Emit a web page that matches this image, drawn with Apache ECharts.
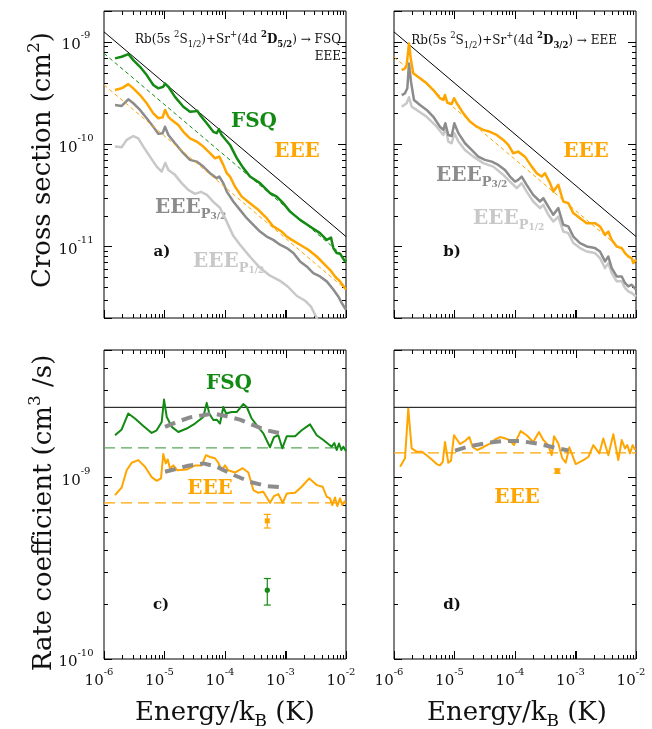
<!DOCTYPE html>
<html>
<head>
<meta charset="utf-8">
<script src="https://cdn.jsdelivr.net/npm/echarts@6/dist/echarts.min.js"></script>
<style>
html, body { margin: 0; padding: 0; background: #fff; }
#chart { width: 652px; height: 729px; }
#dbg { position: absolute; left: 0; top: 330px; font: 11px monospace; color: red; }
</style>
</head>
<body>
<div id="chart"></div>
<div id="dbg"></div>
<script>
// ---- data (energy in K, cross section in cm^2, rate in cm^3/s)
const langevinCross = [[1e-6, 1.25e-9], [1e-2, 1.25e-11]];
const fsqFitA = [[1e-6, 7.7e-10], [1e-2, 7.7e-12]];
const eeeFitA = [[1e-6, 3.8e-10], [1e-2, 3.8e-12]];
const eeeFitB = [[1e-6, 7.1e-10], [1e-2, 7.1e-12]];

const fsqCrossA = [
  [1.52e-6, 6.89e-10], [1.96e-6, 7.14e-10], [2.52e-6, 7.59e-10], [3.05e-6, 6.62e-10], [3.94e-6, 5.70e-10],
  [5.08e-6, 4.73e-10], [6.53e-6, 3.78e-10], [7.90e-6, 3.51e-10], [9.55e-6, 3.64e-10], [1.02e-5, 3.91e-10],
  [1.16e-5, 3.64e-10], [1.49e-5, 2.90e-10], [2.05e-5, 2.32e-10], [2.64e-5, 2.07e-10], [3.19e-5, 2.10e-10],
  [3.48e-5, 2.12e-10], [3.86e-5, 1.93e-10], [4.99e-5, 1.60e-10], [6.41e-5, 1.32e-10], [7.30e-5, 1.28e-10],
  [7.96e-5, 1.40e-10], [8.82e-5, 1.23e-10], [9.38e-5, 1.18e-10], [1.21e-4, 9.82e-11], [1.56e-4, 7.33e-11],
  [2.00e-4, 5.86e-11], [2.59e-4, 4.82e-11], [3.79e-4, 4.16e-11], [5.55e-4, 3.32e-11], [7.16e-4, 3.07e-11],
  [9.20e-4, 2.65e-11], [1.19e-3, 2.19e-11], [1.74e-3, 1.82e-11], [2.54e-3, 1.57e-11], [3.72e-3, 1.35e-11],
  [4.80e-3, 1.16e-11], [5.65e-3, 1.22e-11], [6.17e-3, 9.64e-12], [7.02e-3, 8.63e-12], [7.96e-3, 8.50e-12],
  [9.62e-3, 7.15e-12], [1e-2, 7.4e-12]
];
const eeeCrossA = [
  [1.52e-6, 3.38e-10], [1.96e-6, 3.51e-10], [2.52e-6, 3.86e-10], [3.05e-6, 3.51e-10], [3.94e-6, 3.02e-10],
  [5.08e-6, 2.51e-10], [6.53e-6, 2.00e-10], [7.90e-6, 1.79e-10], [9.33e-6, 1.83e-10], [1.02e-5, 2.16e-10],
  [1.16e-5, 1.85e-10], [1.32e-5, 1.72e-10], [1.69e-5, 1.54e-10], [2.05e-5, 1.32e-10], [2.64e-5, 1.14e-10],
  [3.40e-5, 1.06e-10], [4.38e-5, 9.46e-11], [5.65e-5, 8.15e-11], [6.83e-5, 7.28e-11], [8.05e-5, 7.55e-11],
  [9.38e-5, 6.27e-11], [1.07e-4, 5.20e-11], [1.21e-4, 4.82e-11], [1.46e-4, 3.85e-11], [1.89e-4, 3.07e-11],
  [2.59e-4, 2.65e-11], [3.55e-4, 2.28e-11], [4.89e-4, 1.89e-11], [6.28e-4, 1.57e-11], [8.65e-4, 1.40e-11],
  [1.05e-3, 1.25e-11], [1.27e-3, 1.16e-11], [1.74e-3, 1.04e-11], [2.38e-3, 9.29e-12], [3.28e-3, 7.98e-12],
  [4.22e-3, 6.88e-12], [5.44e-3, 5.92e-12], [6.58e-3, 5.09e-12], [7.96e-3, 4.56e-12], [1e-2, 3.79e-12]
];
const eeeP32CrossA = [
  [1.52e-6, 2.41e-10], [1.96e-6, 2.36e-10], [2.52e-6, 2.74e-10], [3.05e-6, 2.51e-10], [3.94e-6, 2.16e-10],
  [5.08e-6, 1.79e-10], [6.53e-6, 1.48e-10], [7.90e-6, 1.26e-10], [9.33e-6, 1.28e-10], [1.02e-5, 1.48e-10],
  [1.16e-5, 1.23e-10], [1.49e-5, 1.02e-10], [2.05e-5, 8.15e-11], [2.64e-5, 7.02e-11], [3.40e-5, 6.75e-11],
  [4.38e-5, 6.03e-11], [5.65e-5, 5.20e-11], [7.30e-5, 4.65e-11], [8.05e-5, 4.82e-11], [9.38e-5, 4.16e-11],
  [1.07e-4, 3.44e-11], [1.37e-4, 2.75e-11], [1.77e-4, 2.28e-11], [2.29e-4, 1.89e-11], [2.94e-4, 1.63e-11],
  [3.79e-4, 1.40e-11], [4.89e-4, 1.25e-11], [6.28e-4, 1.16e-11], [8.11e-4, 1.04e-11], [1.05e-3, 9.64e-12],
  [1.35e-3, 8.63e-12], [1.74e-3, 7.15e-12], [2.24e-3, 6.38e-12], [2.88e-3, 5.50e-12], [3.72e-3, 5.09e-12],
  [4.80e-3, 4.56e-12], [6.17e-3, 3.79e-12], [7.46e-3, 3.25e-12], [8.49e-3, 2.80e-12], [1e-2, 2.41e-12]
];
const eeeP12CrossA = [
  [1.52e-6, 9.46e-11], [1.96e-6, 9.33e-11], [2.37e-6, 1.10e-10], [3.05e-6, 1.20e-10], [3.69e-6, 1.14e-10],
  [4.47e-6, 9.46e-11], [5.75e-6, 7.55e-11], [7.43e-6, 6.03e-11], [8.99e-6, 5.39e-11], [1.03e-5, 6.56e-11],
  [1.16e-5, 5.60e-11], [1.49e-5, 5.01e-11], [1.92e-5, 4.16e-11], [2.47e-5, 3.57e-11], [3.19e-5, 3.27e-11],
  [4.01e-5, 3.42e-11], [5.04e-5, 3.19e-11], [6.41e-5, 2.73e-11], [8.27e-5, 2.39e-11], [1.07e-4, 1.74e-11],
  [1.37e-4, 1.27e-11], [1.77e-4, 1.04e-11], [2.59e-4, 7.94e-12], [3.79e-4, 6.19e-12], [5.55e-4, 5.18e-12],
  [8.11e-4, 4.62e-12], [1.10e-3, 4.04e-12], [1.53e-3, 3.30e-12], [2.10e-3, 2.95e-12], [2.64e-3, 2.58e-12],
  [3.28e-3, 2.00e-12], [4.5e-3, 1.37e-12]
];

const eeeCrossB = [
  [1.34e-6, 5.30e-10], [1.52e-6, 5.50e-10], [1.62e-6, 5.93e-10], [1.77e-6, 9.64e-10], [1.89e-6, 6.89e-10],
  [2.08e-6, 4.92e-10], [2.69e-6, 4.40e-10], [3.47e-6, 3.93e-10], [4.47e-6, 3.38e-10], [5.75e-6, 2.81e-10],
  [6.53e-6, 2.70e-10], [6.97e-6, 3.02e-10], [7.60e-6, 2.54e-10], [8.99e-6, 2.47e-10], [9.82e-6, 2.81e-10],
  [1.09e-5, 2.51e-10], [1.40e-5, 2.00e-10], [1.80e-5, 1.66e-10], [2.33e-5, 1.48e-10], [2.99e-5, 1.38e-10],
  [3.86e-5, 1.32e-10], [4.99e-5, 1.23e-10], [6.41e-5, 1.10e-10], [7.75e-5, 9.82e-11], [9.38e-5, 8.15e-11],
  [1.13e-4, 8.45e-11], [1.46e-4, 7.55e-11], [1.89e-4, 6.03e-11], [2.29e-4, 5.20e-11], [2.76e-4, 4.82e-11],
  [3.13e-4, 5.20e-11], [3.79e-4, 4.16e-11], [4.30e-4, 3.44e-11], [5.20e-4, 4.00e-11], [6.28e-4, 2.75e-11],
  [7.60e-4, 2.65e-11], [9.20e-4, 2.12e-11], [1.19e-3, 1.89e-11], [1.53e-3, 1.69e-11], [2.10e-3, 1.69e-11],
  [2.54e-3, 1.57e-11], [3.08e-3, 1.30e-11], [3.49e-3, 1.40e-11], [3.97e-3, 1.16e-11], [4.80e-3, 1.00e-11],
  [5.81e-3, 9.64e-12], [6.58e-3, 8.63e-12], [7.46e-3, 7.98e-12], [8.49e-3, 7.70e-12], [9.02e-3, 6.88e-12],
  [1e-2, 7.41e-12]
];
const eeeP32CrossB = [
  [1.34e-6, 3.02e-10], [1.52e-6, 3.14e-10], [1.66e-6, 3.51e-10], [1.77e-6, 6.15e-10], [1.91e-6, 4.07e-10],
  [2.14e-6, 2.70e-10], [2.69e-6, 2.41e-10], [3.47e-6, 2.16e-10], [4.47e-6, 1.85e-10], [5.75e-6, 1.48e-10],
  [6.53e-6, 1.38e-10], [7.05e-6, 1.60e-10], [7.90e-6, 1.23e-10], [8.99e-6, 1.20e-10], [9.93e-6, 1.60e-10],
  [1.16e-5, 1.28e-10], [1.49e-5, 1.02e-10], [1.92e-5, 8.78e-11], [2.47e-5, 7.55e-11], [3.19e-5, 7.02e-11],
  [4.12e-5, 6.75e-11], [5.30e-5, 6.27e-11], [6.83e-5, 5.60e-11], [8.27e-5, 4.82e-11], [1.0e-4, 4.31e-11],
  [1.13e-4, 4.48e-11], [1.29e-4, 4.82e-11], [1.56e-4, 4.00e-11], [2.00e-4, 3.19e-11], [2.59e-4, 2.75e-11],
  [2.94e-4, 2.96e-11], [3.55e-4, 2.45e-11], [4.30e-4, 2.04e-11], [5.20e-4, 2.37e-11], [6.28e-4, 1.63e-11],
  [7.60e-4, 1.57e-11], [9.20e-4, 1.25e-11], [1.19e-3, 1.08e-11], [1.53e-3, 1.00e-11], [2.10e-3, 9.64e-12],
  [2.54e-3, 8.93e-12], [3.08e-3, 7.15e-12], [3.49e-3, 7.98e-12], [3.97e-3, 6.15e-12], [4.80e-3, 5.09e-12],
  [5.81e-3, 5.09e-12], [6.58e-3, 4.40e-12], [7.46e-3, 4.07e-12], [8.49e-3, 4.23e-12], [1e-2, 3.79e-12]
];
const eeeP12CrossB = [
  [1.34e-6, 2.32e-10], [1.62e-6, 2.51e-10], [1.77e-6, 2.87e-10], [1.96e-6, 2.32e-10], [2.37e-6, 2.16e-10],
  [3.47e-6, 1.85e-10], [5.08e-6, 1.48e-10], [6.53e-6, 1.23e-10], [7.16e-6, 1.43e-10], [7.90e-6, 1.06e-10],
  [8.99e-6, 1.02e-10], [9.93e-6, 1.28e-10], [1.16e-5, 1.06e-10], [1.49e-5, 8.78e-11], [2.05e-5, 7.55e-11],
  [2.99e-5, 6.52e-11], [4.38e-5, 6.03e-11], [6.41e-5, 5.01e-11], [8.27e-5, 4.31e-11], [1.07e-4, 3.71e-11],
  [1.29e-4, 4.16e-11], [1.56e-4, 3.44e-11], [2.00e-4, 2.75e-11], [2.59e-4, 2.37e-11], [2.94e-4, 2.55e-11],
  [3.55e-4, 2.04e-11], [4.30e-4, 1.75e-11], [5.20e-4, 1.96e-11], [6.28e-4, 1.40e-11], [7.60e-4, 1.35e-11],
  [9.20e-4, 1.08e-11], [1.19e-3, 9.64e-12], [1.53e-3, 8.93e-12], [2.10e-3, 8.63e-12], [2.54e-3, 7.70e-12],
  [3.08e-3, 6.15e-12], [3.49e-3, 6.88e-12], [3.97e-3, 5.50e-12], [4.80e-3, 4.56e-12], [5.81e-3, 4.56e-12],
  [6.58e-3, 3.93e-12], [7.46e-3, 3.64e-12], [8.49e-3, 3.51e-12], [1e-2, 3.25e-12]
];

const langevinRate = 2.42e-9;
const fsqRateFitC = 1.45e-9;
const eeeRateFitC = 7.22e-10;
const eeeRateFitD = 1.36e-9;

const fsqRateC = [
  [1.52e-6, 1.70e-9], [1.96e-6, 1.83e-9], [2.52e-6, 2.24e-9], [3.25e-6, 2.10e-9], [4.47e-6, 1.91e-9],
  [6.14e-6, 1.75e-9], [7.43e-6, 1.81e-9], [8.99e-6, 2.01e-9], [9.82e-6, 2.67e-9], [1.09e-5, 2.14e-9],
  [1.32e-5, 1.89e-9], [1.69e-5, 1.77e-9], [2.33e-5, 1.85e-9], [3.19e-5, 1.97e-9], [4.38e-5, 2.14e-9],
  [4.99e-5, 2.56e-9], [5.50e-5, 2.24e-9], [6.41e-5, 2.06e-9], [7.30e-5, 2.07e-9], [8.27e-5, 1.97e-9],
  [9.38e-5, 2.43e-9], [1.04e-4, 2.24e-9], [1.29e-4, 2.28e-9], [1.56e-4, 2.28e-9], [2.00e-4, 2.52e-9],
  [2.29e-4, 2.43e-9], [2.76e-4, 2.10e-9], [3.34e-4, 1.93e-9], [4.30e-4, 1.74e-9], [5.55e-4, 1.46e-9],
  [6.46e-4, 1.66e-9], [7.60e-4, 1.70e-9], [8.85e-4, 1.44e-9], [1.05e-3, 1.68e-9], [1.44e-3, 1.68e-9],
  [1.85e-3, 1.81e-9], [2.54e-3, 1.95e-9], [3.28e-3, 1.70e-9], [4.22e-3, 1.60e-9], [5.10e-3, 1.52e-9],
  [5.81e-3, 1.47e-9], [6.41e-3, 1.54e-9], [7.02e-3, 1.41e-9], [7.66e-3, 1.53e-9], [8.36e-3, 1.41e-9],
  [9.02e-3, 1.47e-9], [1e-2, 1.39e-9]
];
const eeeRateC = [
  [1.52e-6, 7.96e-10], [1.96e-6, 8.77e-10], [2.37e-6, 1.09e-9], [2.87e-6, 1.20e-9], [3.69e-6, 1.24e-9],
  [4.76e-6, 1.14e-9], [6.14e-6, 1.00e-9], [7.43e-6, 9.54e-10], [8.75e-6, 9.84e-10], [9.55e-6, 1.34e-9],
  [1.05e-5, 1.19e-9], [1.13e-5, 1.25e-9], [1.23e-5, 1.12e-9], [1.40e-5, 1.16e-9], [1.63e-5, 1.09e-9],
  [2.33e-5, 1.10e-9], [3.19e-5, 1.16e-9], [4.12e-5, 1.16e-9], [4.85e-5, 1.32e-9], [5.65e-5, 1.29e-9],
  [6.83e-5, 1.27e-9], [7.75e-5, 1.20e-9], [8.82e-5, 1.09e-9], [1.0e-4, 1.16e-9], [1.13e-4, 1.09e-9],
  [1.46e-4, 1.06e-9], [1.96e-4, 1.12e-9], [2.43e-4, 1.06e-9], [2.94e-4, 8.49e-10], [3.55e-4, 8.20e-10],
  [4.30e-4, 8.30e-10], [5.55e-4, 7.22e-10], [6.46e-4, 7.87e-10], [7.60e-4, 8.07e-10], [8.99e-4, 7.22e-10],
  [1.05e-3, 8.13e-10], [1.44e-3, 8.20e-10], [1.85e-3, 8.85e-10], [2.47e-3, 9.84e-10], [3.28e-3, 9.04e-10],
  [4.12e-3, 8.85e-10], [4.80e-3, 7.80e-10], [5.44e-3, 7.64e-10], [5.94e-3, 7.02e-10], [6.58e-3, 7.73e-10],
  [7.18e-3, 6.93e-10], [7.96e-3, 7.64e-10], [8.69e-3, 7.02e-10], [9.62e-3, 7.41e-10]
];
const fsqThermalC = [
  [1.02e-5, 1.89e-9], [1.59e-5, 2.01e-9], [2.64e-5, 2.13e-9], [4.38e-5, 2.19e-9], [6.41e-5, 2.24e-9],
  [1.07e-4, 2.16e-9], [1.77e-4, 2.07e-9], [2.94e-4, 1.93e-9], [4.89e-4, 1.81e-9], [9.8e-4, 1.72e-9]
];
const eeeThermalC = [
  [1.02e-5, 1.07e-9], [2.33e-5, 1.15e-9], [4.38e-5, 1.19e-9], [7.30e-5, 1.14e-9], [1.37e-4, 1.03e-9],
  [2.59e-4, 9.42e-10], [4.89e-4, 8.93e-10], [9.8e-4, 8.78e-10]
];
// [energy, value, lower, upper]
const fsqExpC = [[5e-4, 2.39e-10, 1.98e-10, 2.77e-10]];
const eeeExpC = [[5e-4, 5.75e-10, 5.25e-10, 6.24e-10]];

const eeeRateD = [
  [1.26e-6, 1.14e-9], [1.52e-6, 1.27e-9], [1.72e-6, 2.38e-9], [1.96e-6, 1.44e-9], [2.37e-6, 1.38e-9],
  [2.87e-6, 1.38e-9], [3.47e-6, 1.32e-9], [4.20e-6, 1.25e-9], [5.08e-6, 1.18e-9], [5.75e-6, 1.16e-9],
  [6.38e-6, 1.21e-9], [6.97e-6, 1.56e-9], [7.90e-6, 1.20e-9], [8.75e-6, 1.23e-9], [9.82e-6, 1.70e-9],
  [1.23e-5, 1.52e-9], [1.49e-5, 1.58e-9], [1.76e-5, 1.66e-9], [2.00e-5, 1.46e-9], [2.38e-5, 1.41e-9],
  [2.99e-5, 1.46e-9], [3.86e-5, 1.53e-9], [4.67e-5, 1.61e-9], [5.65e-5, 1.66e-9], [6.58e-5, 1.64e-9],
  [8.05e-5, 1.60e-9], [9.62e-5, 1.50e-9], [1.24e-4, 1.79e-9], [1.56e-4, 1.70e-9], [2.00e-4, 1.56e-9],
  [2.49e-4, 1.77e-9], [2.94e-4, 1.60e-9], [3.55e-4, 1.50e-9], [4.04e-4, 1.32e-9], [4.42e-4, 1.68e-9],
  [5.20e-4, 1.53e-9], [6.05e-4, 1.27e-9], [6.89e-4, 1.20e-9], [7.91e-4, 1.46e-9], [1.01e-3, 1.18e-9],
  [1.35e-3, 1.24e-9], [1.63e-3, 1.29e-9], [1.97e-3, 1.50e-9], [2.47e-3, 1.35e-9], [2.88e-3, 1.63e-9],
  [3.49e-3, 1.32e-9], [4.22e-3, 1.72e-9], [5.10e-3, 1.24e-9], [5.81e-3, 1.60e-9], [6.58e-3, 1.44e-9],
  [7.18e-3, 1.50e-9], [7.96e-3, 1.35e-9], [8.81e-3, 1.50e-9], [9.73e-3, 1.41e-9]
];
const eeeThermalD = [
  [1.02e-5, 1.40e-9], [1.80e-5, 1.48e-9], [3.40e-5, 1.54e-9], [6.41e-5, 1.58e-9], [1.21e-4, 1.58e-9],
  [2.29e-4, 1.53e-9], [4.30e-4, 1.46e-9], [7.60e-4, 1.40e-9]
];
const eeeExpD = [[5e-4, 1.08e-9, 1.05e-9, 1.11e-9]];

// ---- styling
const FONT = 'DejaVu Serif';
const INK = '#111';
const GREEN = '#138a13';
const GREEN_LIGHT = '#5aa85a';
const ORANGE = '#ffa500';
const GRAY = '#8c8c8c';
const LIGHT = '#c8c8c8';

const grids = [
  { left: 104, top: 11, width: 242, height: 307 },
  { left: 394, top: 11, width: 242, height: 307 },
  { left: 104, top: 350, width: 242, height: 309 },
  { left: 394, top: 350, width: 242, height: 309 }
];
const xRange = [1e-6, 1e-2];
const yRanges = [[2e-12, 2e-9], [2e-12, 2e-9], [1e-10, 5e-9], [1e-10, 5e-9]];

const labelRich = {
  b: { fontFamily: FONT, fontSize: 15, lineHeight: 22, verticalAlign: 'bottom', color: INK },
  e: { fontFamily: FONT, fontSize: 10, lineHeight: 10, verticalAlign: 'top', color: INK }
};

function powLabel(v) {
  const e = Math.log10(v);
  const r = Math.round(e);
  if (Math.abs(e - r) > 1e-6) return '';
  return '{b|10}{e|' + r + '}';
}

// calls f(v, isMajor) for 1..9 x 10^n strictly between lo and hi
function walkLog(lo, hi, f) {
  const e0 = Math.floor(Math.log10(lo));
  const e1 = Math.ceil(Math.log10(hi));
  for (let e = e0; e <= e1; e++) {
    for (let m = 1; m < 10; m++) {
      const v = m * Math.pow(10, e);
      if (v > lo * 1.001 && v < hi * 0.999) f(v, m === 1);
    }
  }
}

function line(g, data, color, width, dash) {
  return {
    type: 'line', xAxisIndex: g, yAxisIndex: g, data: data,
    symbol: 'none', showSymbol: false, silent: true, animation: false,
    lineStyle: { color: color, width: width, type: dash || 'solid', join: 'round' }
  };
}

function hline(g, v, color, width, dash) {
  return line(g, [[xRange[0], v], [xRange[1], v]], color, width, dash);
}

function errBars(g, data, color, shape) {
  return {
    type: 'custom', xAxisIndex: g, yAxisIndex: g, data: data, silent: true, z: 5,
    renderItem: function (params, api) {
      const c = api.coord([api.value(0), api.value(1)]);
      const lo = api.coord([api.value(0), api.value(2)]);
      const hi = api.coord([api.value(0), api.value(3)]);
      const mark = shape === 'circle'
        ? { type: 'circle', shape: { cx: c[0], cy: c[1], r: 2.6 }, style: { fill: color } }
        : { type: 'rect', shape: { x: c[0] - 2.5, y: c[1] - 2.5, width: 5, height: 5 }, style: { fill: color } };
      return { type: 'group', children: [
        { type: 'line', shape: { x1: c[0], y1: lo[1], x2: c[0], y2: hi[1] }, style: { stroke: color, lineWidth: 1.2 } },
        { type: 'line', shape: { x1: c[0] - 3.5, y1: lo[1], x2: c[0] + 3.5, y2: lo[1] }, style: { stroke: color, lineWidth: 1.2 } },
        { type: 'line', shape: { x1: c[0] - 3.5, y1: hi[1], x2: c[0] + 3.5, y2: hi[1] }, style: { stroke: color, lineWidth: 1.2 } },
        mark
      ] };
    }
  };
}

// ---- text helpers
function tok(size, extra) {
  return Object.assign({ fontFamily: FONT, fontSize: size, fill: INK }, extra || {});
}
const annoRich = {
  n: tok(12, { lineHeight: 19 }),
  p: tok(8.5, { lineHeight: 8, verticalAlign: 'top' }),
  s: tok(8.5, { lineHeight: 8, verticalAlign: 'bottom' }),
  bp: tok(8.5, { lineHeight: 8, verticalAlign: 'top', fontWeight: 'bold' }),
  b: tok(12, { lineHeight: 19, fontWeight: 'bold' }),
  bs: tok(8.5, { lineHeight: 8, verticalAlign: 'bottom', fontWeight: 'bold' })
};
function anno(x, y, state, product) {
  return {
    type: 'text', x: x, y: y, silent: true,
    style: {
      text: '{n|Rb(5s }{p|2}{n|S}{s|1/2}{n|)+Sr}{p|+}{n|(4d }{bp|2}{b|D}{bs|' + state + '}{n|) \u2192 ' + product + '}',
      rich: annoRich, align: 'right', verticalAlign: 'middle'
    }
  };
}
function big(x, y, text, color) {
  return {
    type: 'text', x: x, y: y, silent: true,
    style: { text: text, fill: color, fontFamily: FONT, fontSize: 20, fontWeight: 'bold', align: 'center', verticalAlign: 'middle' }
  };
}
function eeeSub(x, y, j, color) {
  const base = { fontFamily: FONT, fontWeight: 'bold', fill: color };
  return {
    type: 'text', x: x, y: y, silent: true,
    style: {
      text: '{m|EEE}{s|P}{ss|' + j + '}',
      rich: {
        m: Object.assign({ fontSize: 20, lineHeight: 26 }, base),
        s: Object.assign({ fontSize: 13, lineHeight: 14, verticalAlign: 'bottom' }, base),
        ss: Object.assign({ fontSize: 9, lineHeight: 8, verticalAlign: 'bottom' }, base)
      },
      align: 'left', verticalAlign: 'middle'
    }
  };
}
function tag(x, y, text) {
  return {
    type: 'text', x: x, y: y, silent: true,
    style: { text: text, fill: INK, fontFamily: FONT, fontSize: 15, fontWeight: 'bold', align: 'center', verticalAlign: 'middle' }
  };
}
function axisTitle(x, y, text, rich, rotate) {
  return {
    type: 'text', x: x, y: y, rotation: rotate ? Math.PI / 2 : 0, silent: true,
    style: { text: text, rich: rich, align: 'center', verticalAlign: 'middle' }
  };
}
const titleRich = {
  t: tok(26, { lineHeight: 34 }),
  up: tok(17, { lineHeight: 17, verticalAlign: 'top' }),
  dn: tok(17, { lineHeight: 17, verticalAlign: 'bottom' })
};

// ---- chart
const chart = echarts.init(document.getElementById('chart'), null, { renderer: 'canvas' });

const series = [
  // panel a
  line(0, langevinCross, '#000', 1),
  line(0, eeeP12CrossA, LIGHT, 2.5),
  line(0, eeeP32CrossA, GRAY, 2.5),
  line(0, eeeCrossA, ORANGE, 2.5),
  line(0, fsqCrossA, GREEN, 2.5),
  line(0, fsqFitA, GREEN, 1, [4, 3]),
  line(0, eeeFitA, ORANGE, 1, [4, 3]),
  // panel b
  line(1, langevinCross, '#000', 1),
  line(1, eeeP12CrossB, LIGHT, 2.5),
  line(1, eeeP32CrossB, GRAY, 2.5),
  line(1, eeeCrossB, ORANGE, 2.5),
  line(1, eeeFitB, ORANGE, 1, [4, 3]),
  // panel c
  hline(2, langevinRate, '#000', 1),
  hline(2, fsqRateFitC, GREEN_LIGHT, 1.2, [11, 6]),
  hline(2, eeeRateFitC, ORANGE, 1.2, [11, 6]),
  line(2, fsqRateC, GREEN, 2),
  line(2, eeeRateC, ORANGE, 2),
  line(2, fsqThermalC, GRAY, 4, [11, 7]),
  line(2, eeeThermalC, GRAY, 4, [11, 7]),
  errBars(2, eeeExpC, ORANGE, 'rect'),
  errBars(2, fsqExpC, GREEN, 'circle'),
  // panel d
  hline(3, langevinRate, '#000', 1),
  hline(3, eeeRateFitD, ORANGE, 1.2, [11, 6]),
  line(3, eeeRateD, ORANGE, 2),
  line(3, eeeThermalD, GRAY, 4, [11, 7]),
  errBars(3, eeeExpD, ORANGE, 'rect')
];

chart.setOption({
  animation: false,
  grid: grids.map(g => Object.assign({ show: true, borderColor: '#000', borderWidth: 1, backgroundColor: 'transparent' }, g)),
  xAxis: grids.map((g, i) => ({
    type: 'log', logBase: 10, gridIndex: i, min: xRange[0], max: xRange[1],
    axisLine: { show: false }, splitLine: { show: false },
    axisTick: { show: true, inside: true, length: 8, lineStyle: { color: '#000' } },
    axisLabel: { show: i >= 2, interval: 0, formatter: powLabel, rich: labelRich, margin: 8, padding: [0, 10, 0, 0] }
  })),
  yAxis: grids.map((g, i) => ({
    type: 'log', logBase: 10, gridIndex: i, min: yRanges[i][0], max: yRanges[i][1],
    axisLine: { show: false }, splitLine: { show: false },
    axisTick: { show: true, inside: true, length: 8, lineStyle: { color: '#000' } },
    axisLabel: { show: i === 0 || i === 2, interval: 0, formatter: powLabel, rich: labelRich, align: 'center', margin: 28 }
  })),
  series: series
});

// pixel position of a data point, through the grid's own axes
let fallbacks = 0;
function toPx(i, x, y) {
  let p = null;
  try { p = chart.convertToPixel({ gridIndex: i }, [x, y]); } catch (e) { p = null; }
  if (!p || !isFinite(p[0]) || !isFinite(p[1])) {
    fallbacks++;
    const g = grids[i], yr = yRanges[i];
    const fx = Math.log10(x / xRange[0]) / Math.log10(xRange[1] / xRange[0]);
    const fy = Math.log10(y / yr[0]) / Math.log10(yr[1] / yr[0]);
    p = [g.left + fx * g.width, g.top + g.height - fy * g.height];
  }
  return p;
}

// log ticks (major 1x10^n, minor 2..9 x10^n) on all four sides
const ticks = [];
grids.forEach((g, i) => {
  const L = g.left, R = g.left + g.width, T = g.top, B = g.top + g.height;
  const yr = yRanges[i];
  const midX = Math.sqrt(xRange[0] * xRange[1]);
  const midY = Math.sqrt(yr[0] * yr[1]);
  const seg = (x1, y1, x2, y2) => ticks.push({
    type: 'line', silent: true,
    shape: { x1: x1, y1: y1, x2: x2, y2: y2 }, style: { stroke: '#000', lineWidth: 1 }
  });
  walkLog(xRange[0], xRange[1], (v, major) => {
    const x = Math.round(toPx(i, v, midY)[0]) + 0.5;
    const len = major ? 8 : 4;
    seg(x, B, x, B - len);
    seg(x, T, x, T + len);
  });
  walkLog(yr[0], yr[1], (v, major) => {
    const y = Math.round(toPx(i, midX, v)[1]) + 0.5;
    const len = major ? 8 : 4;
    seg(L, y, L + len, y);
    seg(R, y, R - len, y);
  });
});

const texts = [
  anno(341, 40, '5/2', 'FSQ'),
  { type: 'text', x: 341, y: 57, silent: true, style: { text: 'EEE', fill: INK, fontFamily: FONT, fontSize: 12, align: 'right', verticalAlign: 'middle' } },
  anno(617, 41, '3/2', 'EEE'),
  big(254, 122, 'FSQ', GREEN),
  big(297, 152, 'EEE', ORANGE),
  eeeSub(155, 208, '3/2', GRAY),
  eeeSub(193, 262, '1/2', LIGHT),
  big(586, 152, 'EEE', ORANGE),
  eeeSub(436, 176, '3/2', GRAY),
  eeeSub(473, 219, '1/2', LIGHT),
  big(229, 384, 'FSQ', GREEN),
  big(210, 489, 'EEE', ORANGE),
  big(517, 498, 'EEE', ORANGE),
  tag(162, 252, 'a)'), tag(452, 252, 'b)'), tag(161, 605, 'c)'), tag(452, 605, 'd)'),
  axisTitle(43, 160, '{t|Cross section (cm}{up|2}{t|)}', titleRich, true),
  axisTitle(44, 513, '{t|Rate coefficient (cm}{up|3}{t| /s)}', titleRich, true),
  axisTitle(225, 713, '{t|Energy/k}{dn|B}{t| (K)}', titleRich, false),
  axisTitle(517, 713, '{t|Energy/k}{dn|B}{t| (K)}', titleRich, false)
];

let err = '';
try {
  chart.setOption({ graphic: { elements: ticks.concat(texts) } });
} catch (e) { err = e.message; }
if (err || fallbacks) {
  document.getElementById('dbg').textContent = 'ticks=' + ticks.length + ' fb=' + fallbacks + ' ' + err + ' ' + JSON.stringify(ticks[0]);
}
</script>
</body>
</html>
